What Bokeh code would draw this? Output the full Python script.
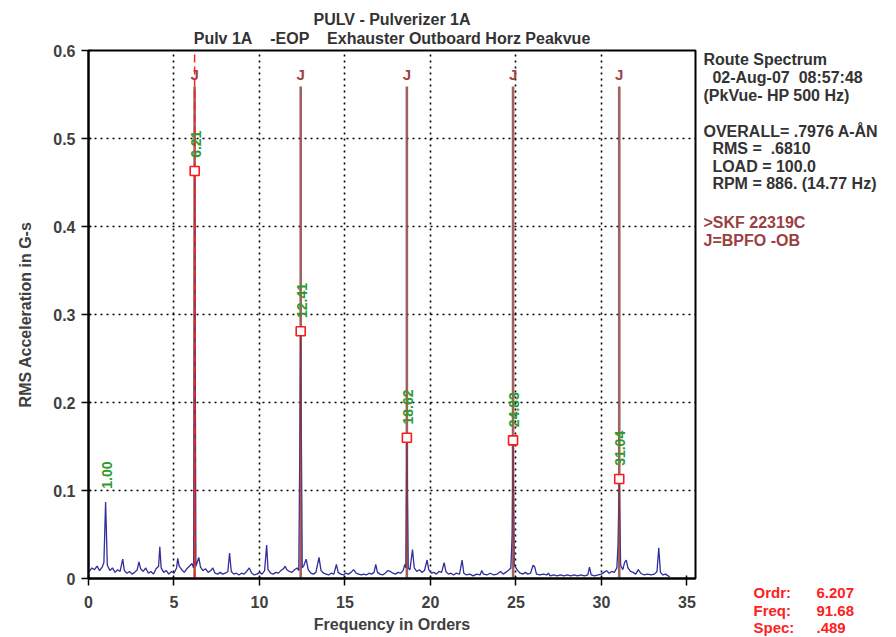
import numpy as np
from bokeh.plotting import figure
from bokeh.layouts import row
from bokeh.models import Label, FixedTicker, Range1d, Title
from bokeh.core.properties import value
from bokeh.embed import file_html
from bokeh.resources import INLINE

# ---------------- data ----------------
spec_order = [0.05, 0.2, 0.35, 0.5, 0.65, 0.8, 0.9, 1.0, 1.1, 1.25, 1.4, 1.55, 1.7, 1.85, 2.0, 2.1,
              2.25, 2.4, 2.55, 2.7, 2.85, 2.95, 3.05, 3.2, 3.35, 3.5, 3.65, 3.8, 3.95, 4.1, 4.17, 4.25,
              4.4, 4.55, 4.7, 4.85, 5.0, 5.15, 5.22, 5.3, 5.45, 5.6, 5.75, 5.9, 6.05, 6.15, 6.21, 6.28,
              6.45, 6.55, 6.7, 6.85, 7.0, 7.15, 7.27, 7.4, 7.55, 7.7, 7.85, 8.0, 8.15, 8.25, 8.35, 8.5,
              8.65, 8.8, 8.95, 9.1, 9.25, 9.4, 9.55, 9.7, 9.85, 10.0, 10.15, 10.3, 10.42, 10.5, 10.65,
              10.8, 10.95, 11.1, 11.25, 11.4, 11.5, 11.6, 11.75, 11.9, 12.05, 12.2, 12.3, 12.41, 12.5,
              12.6, 12.73, 12.85, 13.0, 13.15, 13.3, 13.48, 13.6, 13.75, 13.9, 14.05, 14.2, 14.35, 14.5,
              14.6, 14.75, 14.9, 15.05, 15.2, 15.35, 15.5, 15.65, 15.8, 15.95, 16.1, 16.25, 16.4, 16.55,
              16.7, 16.8, 16.9, 17.05, 17.2, 17.35, 17.5, 17.65, 17.8, 17.95, 18.1, 18.25, 18.4, 18.5,
              18.56, 18.62, 18.7, 18.8, 18.95, 19.05, 19.2, 19.35, 19.5, 19.65, 19.8, 19.9, 20.05, 20.2,
              20.35, 20.5, 20.65, 20.8, 20.9, 21.05, 21.2, 21.35, 21.5, 21.7, 21.85, 21.95, 22.1, 22.3,
              22.5, 22.7, 22.9, 23.0, 23.1, 23.3, 23.5, 23.7, 23.9, 24.1, 24.25, 24.4, 24.55, 24.7,
              24.78, 24.83, 24.9, 25.0, 25.1, 25.25, 25.4, 25.55, 25.7, 25.85, 26.0, 26.1, 26.2, 26.4,
              26.6, 26.8, 26.9, 27.0, 27.2, 27.4, 27.6, 27.8, 28.0, 28.2, 28.4, 28.6, 28.8, 29.0, 29.2,
              29.3, 29.4, 29.6, 29.8, 30.0, 30.15, 30.3, 30.45, 30.6, 30.75, 30.9, 30.97, 31.04, 31.12,
              31.25, 31.35, 31.45, 31.55, 31.7, 31.85, 32.0, 32.15, 32.3, 32.5, 32.7, 32.9, 33.1, 33.25,
              33.35, 33.45, 33.6, 33.75, 33.9, 34.0]
spec_amp = [0.008, 0.012, 0.010, 0.014, 0.009, 0.013, 0.018, 0.087, 0.015, 0.009, 0.012, 0.007, 0.010,
            0.008, 0.022, 0.009, 0.006, 0.008, 0.005, 0.007, 0.010, 0.019, 0.011, 0.008, 0.012, 0.006,
            0.008, 0.005, 0.011, 0.014, 0.036, 0.012, 0.007, 0.009, 0.005, 0.008, 0.006, 0.012, 0.023,
            0.014, 0.010, 0.007, 0.011, 0.014, 0.017, 0.012, 0.463, 0.014, 0.024, 0.013, 0.009, 0.011,
            0.007, 0.009, 0.012, 0.006, 0.005, 0.007, 0.005, 0.006, 0.008, 0.029, 0.008, 0.005, 0.006,
            0.004, 0.006, 0.005, 0.008, 0.012, 0.006, 0.004, 0.005, 0.007, 0.005, 0.009, 0.038, 0.010,
            0.006, 0.005, 0.007, 0.006, 0.009, 0.011, 0.014, 0.010, 0.008, 0.007, 0.010, 0.012, 0.009,
            0.281, 0.012, 0.015, 0.022, 0.010, 0.006, 0.005, 0.007, 0.024, 0.009, 0.006, 0.005, 0.004,
            0.006, 0.005, 0.016, 0.007, 0.005, 0.004, 0.006, 0.005, 0.007, 0.010, 0.006, 0.005, 0.004,
            0.005, 0.004, 0.006, 0.005, 0.007, 0.016, 0.007, 0.005, 0.004, 0.006, 0.009, 0.008, 0.006,
            0.005, 0.007, 0.006, 0.009, 0.016, 0.012, 0.160, 0.012, 0.010, 0.033, 0.012, 0.008, 0.010,
            0.007, 0.009, 0.021, 0.010, 0.006, 0.007, 0.005, 0.008, 0.007, 0.018, 0.008, 0.005, 0.006,
            0.004, 0.006, 0.005, 0.021, 0.006, 0.004, 0.005, 0.003, 0.005, 0.004, 0.009, 0.005, 0.004,
            0.006, 0.004, 0.005, 0.008, 0.005, 0.007, 0.009, 0.012, 0.050, 0.157, 0.015, 0.012, 0.009,
            0.006, 0.005, 0.007, 0.005, 0.006, 0.015, 0.013, 0.005, 0.004, 0.005, 0.004, 0.006, 0.003,
            0.004, 0.003, 0.004, 0.003, 0.004, 0.003, 0.004, 0.003, 0.004, 0.003, 0.004, 0.013, 0.004,
            0.003, 0.004, 0.005, 0.007, 0.009, 0.006, 0.008, 0.007, 0.012, 0.038, 0.113, 0.015, 0.010,
            0.018, 0.021, 0.012, 0.008, 0.007, 0.005, 0.010, 0.006, 0.004, 0.005, 0.004, 0.005, 0.008,
            0.035, 0.007, 0.004, 0.005, 0.003, 0.002]

peak_order = [1.00, 6.21, 12.41, 18.62, 24.83, 31.04]
peak_label = ["1.00", "6.21", "12.41", "18.62", "24.83", "31.04"]
peak_amp = [0.087, 0.463, 0.281, 0.160, 0.157, 0.113]

bpfo_order = [6.207, 12.41, 18.62, 24.83, 31.04]
bpfo_mark = ["J", "J", "J", "J", "J"]

x_ticks = [0, 5, 10, 15, 20, 25, 30, 35]
y_ticks = [0, 0.1, 0.2, 0.3, 0.4, 0.5, 0.6]
y_tick_labels = ["0", "0.1", "0.2", "0.3", "0.4", "0.5", "0.6"]

cursor_order = 6.207

title_text = "PULV - Pulverizer 1A"
subtitle_text = ("Pulv 1A" + "\u00a0" * 4 + "-EOP" + "\u00a0" * 4 + "Exhauster Outboard Horz Peakvue")

info_lines = ["Route Spectrum",
              "\u00a0 02-Aug-07\u00a0\u00a008:57:48",
              "(PkVue- HP 500 Hz)",
              "OVERALL= .7976 A-ÅN",
              "\u00a0 RMS =\u00a0 .6810",
              "\u00a0 LOAD = 100.0",
              "\u00a0 RPM = 886. (14.77 Hz)"]
info_y_px = [59, 77, 95, 131, 148, 166, 183]
bearing_lines = [">SKF 22319C", "J=BPFO -OB"]
bearing_y_px = [222, 240]

cursor_keys = ["Ordr:", "Freq:", "Spec:"]
cursor_vals = ["6.207", "91.68", ".489"]
cursor_y_px = [592, 610, 627]

# ---------------- layout constants ----------------
FONT = "Liberation Sans"
FS = "16px"
W, H = 896, 637
MAIN_W = 700
SIDE_W = W - MAIN_W
L, R, T, B = 88, 5, 50, 59
XMAX = 35.5
YMAX = 0.6
fh = H - T - B


def dy(py):
    return (H - B - py) / fh * YMAX


# ---------------- main chart ----------------
p = figure(width=MAIN_W, height=H, x_range=Range1d(0, XMAX), y_range=Range1d(0, YMAX),
           output_backend="svg", toolbar_location=None, title=None,
           min_border_left=L, min_border_right=R, min_border_top=T, min_border_bottom=B)
p.frame_align = False
p.background_fill_color = "white"
p.border_fill_color = "white"
p.outline_line_color = "black"
p.outline_line_width = 2

p.add_layout(Title(text=subtitle_text, align="center", offset=12, standoff=7,
                   text_font=FONT, text_font_style="bold", text_font_size=FS,
                   text_color="#333333"), "above")
p.add_layout(Title(text=title_text, align="center", offset=1, standoff=-6,
                   text_font=FONT, text_font_style="bold", text_font_size=FS,
                   text_color="#333333"), "above")

for ax in (p.xaxis[0], p.yaxis[0]):
    ax.axis_line_width = 2
    ax.axis_line_color = "black"
    ax.major_tick_line_width = 1.5
    ax.major_tick_line_color = "black"
    ax.minor_tick_line_color = None
    ax.major_tick_out = 7
    ax.major_tick_in = 3
    ax.major_label_text_font = FONT
    ax.major_label_text_font_style = "bold"
    ax.major_label_text_font_size = FS
    ax.major_label_text_color = "#404040"
    ax.axis_label_text_font = FONT
    ax.axis_label_text_font_style = "bold"
    ax.axis_label_text_font_size = FS
    ax.axis_label_text_color = "#404040"

p.xaxis.ticker = FixedTicker(ticks=x_ticks)
p.yaxis.ticker = FixedTicker(ticks=y_ticks)
p.yaxis.major_label_overrides = {t: s for t, s in zip(y_ticks, y_tick_labels)}
p.xaxis.axis_label = "Frequency in Orders"
p.yaxis.axis_label = "RMS Acceleration in G-s"
p.xaxis.major_label_standoff = 10
p.xaxis.axis_label_standoff = 5
p.yaxis.major_label_standoff = 6
p.yaxis.axis_label_standoff = 16

p.xgrid.ticker = FixedTicker(ticks=x_ticks[1:-1])
p.ygrid.ticker = FixedTicker(ticks=y_ticks[1:-1])
for g in (p.xgrid[0], p.ygrid[0]):
    g.grid_line_color = "black"
    g.grid_line_dash = "2 4"
    g.grid_line_width = 1.6

# spectrum
p.line(spec_order, spec_amp, line_color="#2e2e9c", line_width=1.3)

# BPFO harmonic lines and J markers
p.segment(x0=bpfo_order, y0=[0] * len(bpfo_order), x1=bpfo_order, y1=[dy(86)] * len(bpfo_order),
          line_color="#8b3a3a", line_width=2.6, line_alpha=0.8)
p.text(x=bpfo_order, y=[dy(74)] * len(bpfo_order), text=bpfo_mark,
       text_align="center", text_baseline="middle", text_color="#9a4545",
       text_font=value(FONT), text_font_style="bold", text_font_size="15px")

# cursor line
p.segment(x0=[cursor_order], y0=[0], x1=[cursor_order], y1=[YMAX],
          line_color="#ff2020", line_width=1.5, line_dash="8 4")

# peak markers (not on the 1x)
p.scatter(x=peak_order[1:], y=peak_amp[1:], marker="square", size=9,
          fill_color="white", line_color="#ff1a1a", line_width=1.6)

# green peak labels, rotated
lab_y = [a + 0.015 for a in peak_amp]
p.text(x=peak_order, y=lab_y, text=peak_label, angle=np.pi / 2,
       text_align="left", text_baseline="middle", x_offset=1,
       text_color="#2f9a2f", text_font=value(FONT), text_font_style="bold",
       text_font_size="14px")

# ---------------- side panel text ----------------
side = figure(width=SIDE_W, height=H, x_range=Range1d(0, SIDE_W), y_range=Range1d(H, 0),
              output_backend="svg", toolbar_location=None,
              x_axis_location=None, y_axis_location=None, min_border=0)
side.frame_align = False
side.grid.visible = False
side.outline_line_color = None
side.background_fill_color = "white"
side.border_fill_color = "white"

x0 = MAIN_W
for t, yp in zip(info_lines, info_y_px):
    side.add_layout(Label(x=703 - x0, y=yp, text=t, text_align="left", text_baseline="middle",
                          text_font=FONT, text_font_style="bold", text_font_size=FS,
                          text_color="#333333"))
for t, yp in zip(bearing_lines, bearing_y_px):
    side.add_layout(Label(x=703 - x0, y=yp, text=t, text_align="left", text_baseline="middle",
                          text_font=FONT, text_font_style="bold", text_font_size=FS,
                          text_color="#9a4040"))
for k, v, yp in zip(cursor_keys, cursor_vals, cursor_y_px):
    side.add_layout(Label(x=753 - x0, y=yp, text=k, text_align="left", text_baseline="middle",
                          text_font=FONT, text_font_style="bold", text_font_size="15px",
                          text_color="#ff2020"))
    side.add_layout(Label(x=816 - x0, y=yp, text=v, text_align="left", text_baseline="middle",
                          text_font=FONT, text_font_style="bold", text_font_size="15px",
                          text_color="#ff2020"))

layout = row(p, side, spacing=0)
open("out.html", "w").write(file_html(layout, INLINE))
